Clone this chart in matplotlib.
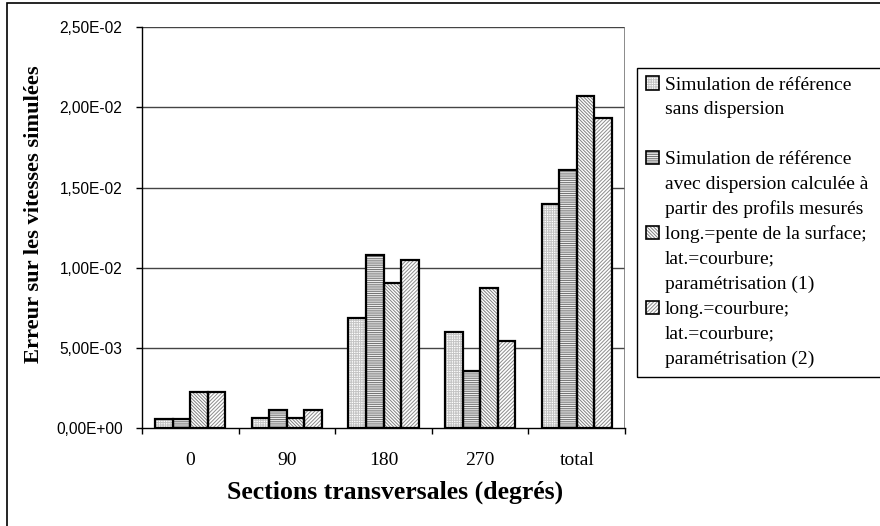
import matplotlib
matplotlib.use("Agg")
import matplotlib.pyplot as plt
from matplotlib.patches import Rectangle
import numpy as np

# --- data -----------------------------------------------------------------
categories = ["0", "90", "180", "270", "total"]
series_labels = [
    "Simulation de référence\nsans dispersion",
    "Simulation de référence\navec dispersion calculée à\npartir des profils mesurés",
    "long.=pente de la surface;\nlat.=courbure;\nparamétrisation (1)",
    "long.=courbure;\nlat.=courbure;\nparamétrisation (2)",
]
ref_sans_dispersion = [0.00055, 0.00066, 0.00686, 0.00602, 0.01398]
ref_avec_dispersion = [0.00055, 0.00114, 0.01082, 0.00357, 0.01612]
param_1 = [0.00226, 0.00066, 0.00904, 0.00875, 0.02072]
param_2 = [0.00226, 0.00114, 0.01051, 0.00546, 0.01933]
ytick_values = [0.0, 0.005, 0.010, 0.015, 0.020, 0.025]
ytick_labels = ["0,00E+00", "5,00E-03", "1,00E-02", "1,50E-02", "2,00E-02", "2,50E-02"]

series = [ref_sans_dispersion, ref_avec_dispersion, param_1, param_2]
hatches = ["+" * 7, "-" * 9, "\\" * 10, "/" * 9]
hatch_colors = ["#c4c4c4", "#707070", "#808080", "#8c8c8c"]

W, H = 880, 526
fig = plt.figure(figsize=(W / 100, H / 100), dpi=100)
plt.rcParams["hatch.linewidth"] = 0.7


def fx(x):
    return x / W


def fy(y):
    return 1 - y / H


ax_left, ax_right, ax_top, ax_bottom = 142, 625, 27, 428.3
ax = fig.add_axes([fx(ax_left), fy(ax_bottom), fx(ax_right - ax_left), (ax_bottom - ax_top) / H])

serif = "Liberation Serif"
sans = "Liberation Sans"

x = np.arange(len(categories))
bw = 1 / 5.5
offsets = (np.arange(4) - 1.5) * bw
for vals, off, hatch, hc in zip(series, offsets, hatches, hatch_colors):
    ax.bar(x + off, vals, width=bw, color="white", edgecolor=hc, hatch=hatch,
           linewidth=0, zorder=2)
    ax.bar(x + off, vals, width=bw, fill=False, edgecolor="black",
           linewidth=1.6, zorder=3)

ax.set_xlim(-0.5, len(categories) - 0.5)
ax.set_ylim(0, 0.025)

# horizontal gridlines
for v in ytick_values[1:]:
    ax.axhline(v, color="#444444", linewidth=1.0, zorder=1)

for side in ["top", "right"]:
    ax.spines[side].set_visible(False)
ax.axvline(len(categories) - 0.5, color="#777777", linewidth=1.2, zorder=1)
ax.spines["left"].set_linewidth(1.0)
ax.spines["bottom"].set_linewidth(1.0)

ax.set_yticks(ytick_values)
ax.set_yticklabels(ytick_labels, fontfamily=sans, fontsize=11.2)
ax.tick_params(axis="y", length=4, width=1, pad=10)

ax.set_xticks(x)
ax.set_xticklabels(categories, fontfamily=serif, fontsize=14)
ax.tick_params(axis="x", which="major", length=0, pad=17)
ax.set_xticks(np.arange(len(categories) + 1) - 0.5, minor=True)
ax.tick_params(axis="x", which="minor", length=4, width=1)

fig.text(fx(395), fy(492), "Sections transversales (degrés)", fontfamily=serif,
         fontweight="bold", fontsize=18.5, ha="center", va="center")
fig.text(fx(34), fy(214), "Erreur sur les vitesses simulées", fontfamily=serif,
         fontweight="bold", fontsize=16.2, ha="center", va="center", rotation=90)

# outer chart border
fig.patches.append(Rectangle((fx(7), -0.2), 1.2, fy(3) + 0.2, transform=fig.transFigure,
                             fill=False, edgecolor="black", linewidth=1.2))

# legend box
leg_l, leg_t, leg_b = 637, 68, 377
fig.patches.append(Rectangle((fx(leg_l), fy(leg_b)), 1.0, (leg_b - leg_t) / H,
                             transform=fig.transFigure, fill=False,
                             edgecolor="black", linewidth=1.0))
line_step = 24.9
line_y = 83.0
for i, (lab, hatch, hc) in enumerate(zip(series_labels, hatches, hatch_colors)):
    lines = lab.split("\n")
    sq = 13
    fig.patches.append(Rectangle((fx(646), fy(line_y + sq / 2)), sq / W, sq / H,
                                 transform=fig.transFigure, facecolor="white",
                                 edgecolor=hc, hatch=hatch, linewidth=0))
    fig.patches.append(Rectangle((fx(646), fy(line_y + sq / 2)), sq / W, sq / H,
                                 transform=fig.transFigure, fill=False,
                                 edgecolor="black", linewidth=1.2))
    for ln in lines:
        fig.text(fx(665), fy(line_y), ln, fontfamily=serif, fontsize=14,
                 ha="left", va="center_baseline")
        line_y += line_step
    if i == 0:
        line_y += line_step

fig.savefig("out.png", dpi=100)
